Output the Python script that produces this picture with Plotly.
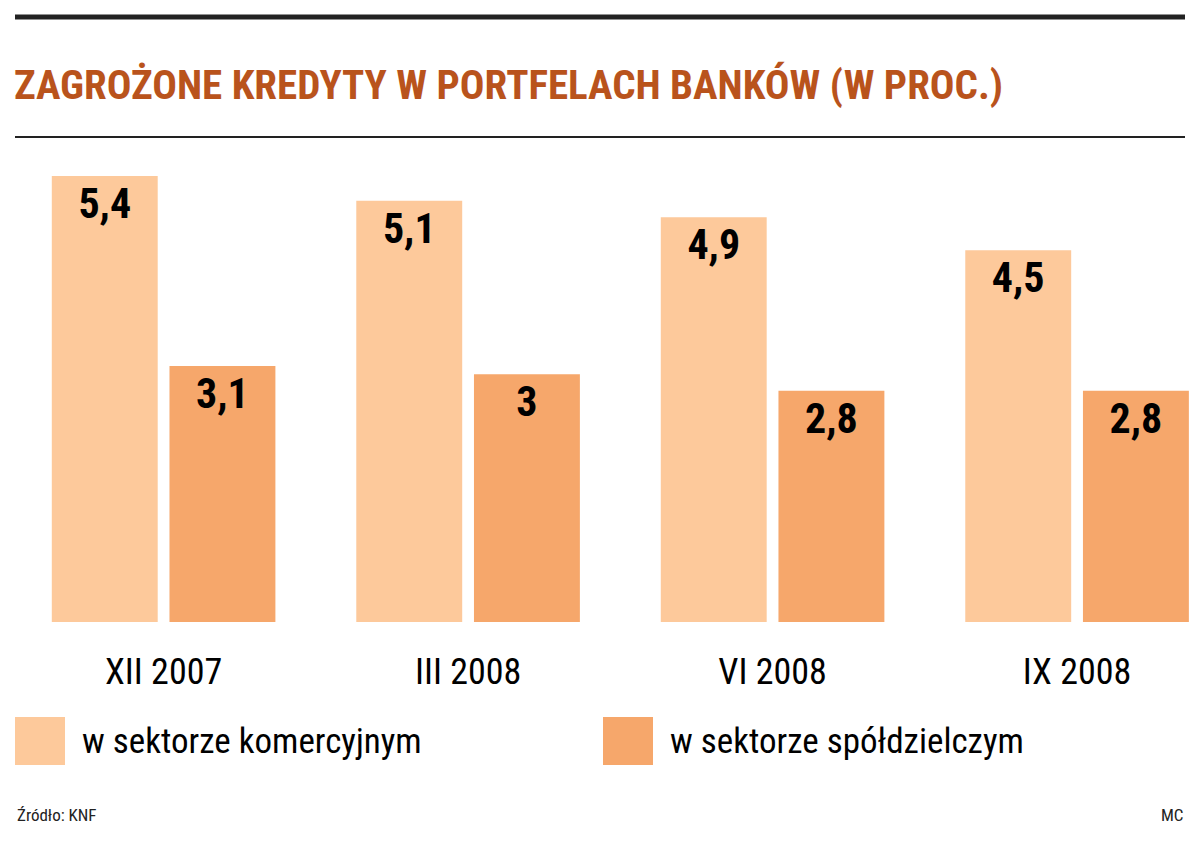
import plotly.graph_objects as go

periods = ['XII 2007', 'III 2008', 'VI 2008', 'IX 2008']
komercyjny = [5.4, 5.1, 4.9, 4.5]
spoldzielczy = [3.1, 3.0, 2.8, 2.8]
labels_kom = ['5,4', '5,1', '4,9', '4,5']
labels_spo = ['3,1', '3', '2,8', '2,8']

light = '#fdc99b'
dark = '#f6a76b'
font = 'Liberation Sans Narrow, Roboto Condensed, Liberation Sans, sans-serif'

fig = go.Figure()
fig.add_trace(go.Bar(x=periods, y=komercyjny, text=labels_kom, marker_color=light,
                     name='w sektorze komercyjnym'))
fig.add_trace(go.Bar(x=periods, y=spoldzielczy, text=labels_spo, marker_color=dark,
                     name='w sektorze spółdzielczym'))
fig.update_traces(textposition='inside', insidetextanchor='end',
                  textfont=dict(family=font, size=42, color='black', weight='bold'),
                  textangle=0, marker_line_width=0)

fig.update_layout(
    width=1200, height=853, plot_bgcolor='white', paper_bgcolor='white',
    margin=dict(l=0, r=0, t=168, b=239), showlegend=False,
    barmode='group', bargap=0.227, bargroupgap=0.1,
    font=dict(family=font),
    xaxis=dict(type='category', range=[-0.511, 3.430], showgrid=False,
               ticks='outside', ticklen=18, tickcolor='white',
               tickfont=dict(size=36, color='black')),
    yaxis=dict(range=[0, 5.4], visible=False),
)


def px_(p):
    return (p - 8) / 1200


def py(p):
    return (622 - p) / 446


# title and rules
fig.add_shape(type='line', xref='paper', yref='paper', x0=px_(15), x1=px_(1185),
              y0=py(17), y1=py(17), line=dict(color='#222', width=5))
fig.add_shape(type='line', xref='paper', yref='paper', x0=px_(15), x1=px_(1185),
              y0=py(137), y1=py(137), line=dict(color='#222', width=2))
fig.add_annotation(text='<b>ZAGROŻONE KREDYTY W PORTFELACH BANKÓW (W PROC.)</b>',
                   xref='paper', yref='paper', x=px_(12), y=py(85),
                   xanchor='left', yanchor='middle', showarrow=False,
                   font=dict(size=41, color='#b9531c', family=font))

# legend
for x0, color, name in [(15, light, 'w sektorze komercyjnym'),
                        (603, dark, 'w sektorze spółdzielczym')]:
    fig.add_shape(type='rect', xref='paper', yref='paper',
                  x0=px_(x0), x1=px_(x0 + 50), y0=py(765), y1=py(717),
                  fillcolor=color, line_width=0)
    fig.add_annotation(text=name, xref='paper', yref='paper', x=px_(x0 + 65),
                       y=py(741), xanchor='left', yanchor='middle', showarrow=False,
                       font=dict(size=35, color='black', family=font))

fig.add_annotation(text='Źródło: KNF', xref='paper', yref='paper', x=px_(15), y=py(815),
                   xanchor='left', yanchor='middle', showarrow=False,
                   font=dict(size=17, color='#222', family=font))
fig.add_annotation(text='MC', xref='paper', yref='paper', x=px_(1185), y=py(815),
                   xanchor='right', yanchor='middle', showarrow=False,
                   font=dict(size=17, color='#222', family=font))

fig.write_html('out.html')
